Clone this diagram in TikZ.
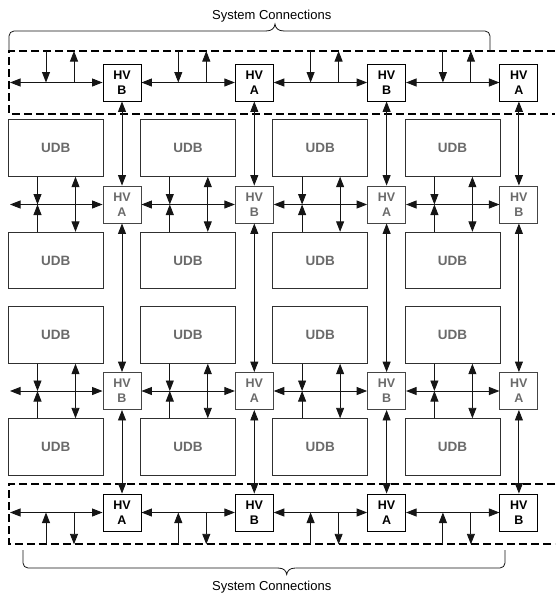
\documentclass[tikz,border=0pt]{standalone}
\usepackage{fontspec}
\setmainfont{Liberation Sans}
\usetikzlibrary{arrows.meta,calc}
\definecolor{udbtext}{HTML}{6A6A6A}
\definecolor{udbline}{HTML}{303030}
\definecolor{hvgrey}{HTML}{6A6A6A}
\definecolor{hvgreyline}{HTML}{454545}
\definecolor{lineclr}{HTML}{151515}
\begin{document}
\begin{tikzpicture}[x=1pt,y=-1pt,
  >={Triangle[length=10.5pt,width=8pt]},
  hvbox/.style={draw=black,line width=0.9pt,minimum width=38pt,minimum height=37pt,inner sep=0pt,align=center,font=\fontsize{12.5}{15}\selectfont\bfseries},
  hvmid/.style={hvbox,draw=hvgreyline,text=hvgrey},
  udb/.style={draw=udbline,line width=0.9pt,minimum width=95pt,minimum height=56.5pt,inner sep=0pt,text=udbtext,font=\fontsize{13.5}{15}\selectfont\bfseries},
  con/.style={line width=0.9pt,draw=lineclr,fill=black},
  dashbox/.style={line width=1.7pt,dash pattern=on 8pt off 4pt},
  brace/.style={line width=0.8pt,draw=lineclr},
  lbl/.style={font=\fontsize{13}{15}\selectfont,anchor=base,inner sep=0pt}
]
\useasboundingbox (0,0) rectangle (555,595);
% dashed system connection areas
\draw[dashbox] (555,51) -- (9,51) -- (9,114) -- (555,114);
\draw[dashbox] (555,484.3) -- (9,484.3) -- (9,544.3) -- (555,544.3);
% nodes
\foreach \i/\lt/\lm/\ln/\lb in {1/B/A/B/A, 2/A/B/A/B, 3/B/A/B/A, 4/A/B/A/B}{
  \pgfmathsetmacro\cx{122+132.3*(\i-1)}
  \pgfmathsetmacro\ux{\cx-66.3}
  \node[hvbox] (t\i) at (\cx,82.5) {HV\\\lt};
  \node[hvmid] (m\i) at (\cx,204.5) {HV\\\lm};
  \node[hvmid] (n\i) at (\cx,391) {HV\\\ln};
  \node[hvbox] (b\i) at (\cx,512.5) {HV\\\lb};
  \node[udb] (ua\i) at (\ux,148) {UDB};
  \node[udb] (ub\i) at (\ux,260.5) {UDB};
  \node[udb] (uc\i) at (\ux,335) {UDB};
  \node[udb] (ud\i) at (\ux,447) {UDB};
}
% left free ends
\coordinate (t0) at (10,82.5);
\coordinate (m0) at (10,204.5);
\coordinate (n0) at (10,391);
\coordinate (b0) at (10,512.5);
\draw[con,<->] (t0) -- (t1.west);
\draw[con,<->] (m0) -- (m1.west);
\draw[con,<->] (n0) -- (n1.west);
\draw[con,<->] (b0) -- (b1.west);
\foreach \i/\prv in {2/1,3/2,4/3}{
  \draw[con,<->] (t\prv.east) -- (t\i.west);
  \draw[con,<->] (m\prv.east) -- (m\i.west);
  \draw[con,<->] (n\prv.east) -- (n\i.west);
  \draw[con,<->] (b\prv.east) -- (b\i.west);
}
\foreach \i in {1,2,3,4}{
  % vertical HV links
  \draw[con,<->] (t\i.south) -- (m\i.north);
  \draw[con,<->] (m\i.south) -- (n\i.north);
  \draw[con,<->] (n\i.south) -- (b\i.north);
  % top system connections
  \draw[con,->] ($(t\i.center)+(-76,-31.5)$) -- ($(t\i.center)+(-76,0)$);
  \draw[con,<-] ($(t\i.center)+(-48,-31.5)$) -- ($(t\i.center)+(-48,0)$);
  % bottom system connections
  \draw[con,->] ($(b\i.center)+(-76,31.8)$) -- ($(b\i.center)+(-76,0)$);
  \draw[con,->] ($(b\i.center)+(-48,0)$) -- ($(b\i.center)+(-48,31.8)$);
  % UDB links, first middle row
  \draw[con,->] ($(ua\i.south)+(-18.2,0)$) -- ($(ua\i.south |- m\i.center)+(-18.2,0)$);
  \draw[con,->] ($(ub\i.north)+(-18.2,0)$) -- ($(ub\i.north |- m\i.center)+(-18.2,0)$);
  \draw[con,<->] ($(ua\i.south)+(19.8,0)$) -- ($(ub\i.north)+(19.8,0)$);
  % UDB links, second middle row
  \draw[con,->] ($(uc\i.south)+(-18.2,0)$) -- ($(uc\i.south |- n\i.center)+(-18.2,0)$);
  \draw[con,->] ($(ud\i.north)+(-18.2,0)$) -- ($(ud\i.north |- n\i.center)+(-18.2,0)$);
  \draw[con,<->] ($(uc\i.south)+(19.8,0)$) -- ($(ud\i.north)+(19.8,0)$);
}
% braces
\draw[brace,rounded corners=5pt] (9,51) -- (9,31) -- (266,31);
\draw[brace] (266,31) .. controls (272,31) and (274.5,28) .. (275,24) .. controls (275.5,28) and (278,31) .. (284,31);
\draw[brace,rounded corners=5pt] (284,31) -- (490,31) -- (490,51);
\draw[brace,rounded corners=5pt] (23,550) -- (23,568) -- (278,568);
\draw[brace] (278,568) .. controls (284,568) and (286.2,571) .. (286.7,574.5) .. controls (287.2,571) and (289.5,568) .. (295.5,568);
\draw[brace,rounded corners=5pt] (295.5,568) -- (505,568) -- (505,550);
\node[lbl] (systop) at (271.7,19.3) {System Connections};
\node[lbl] (sysbot) at (271.7,590) {System Connections};
\end{tikzpicture}
\end{document}
